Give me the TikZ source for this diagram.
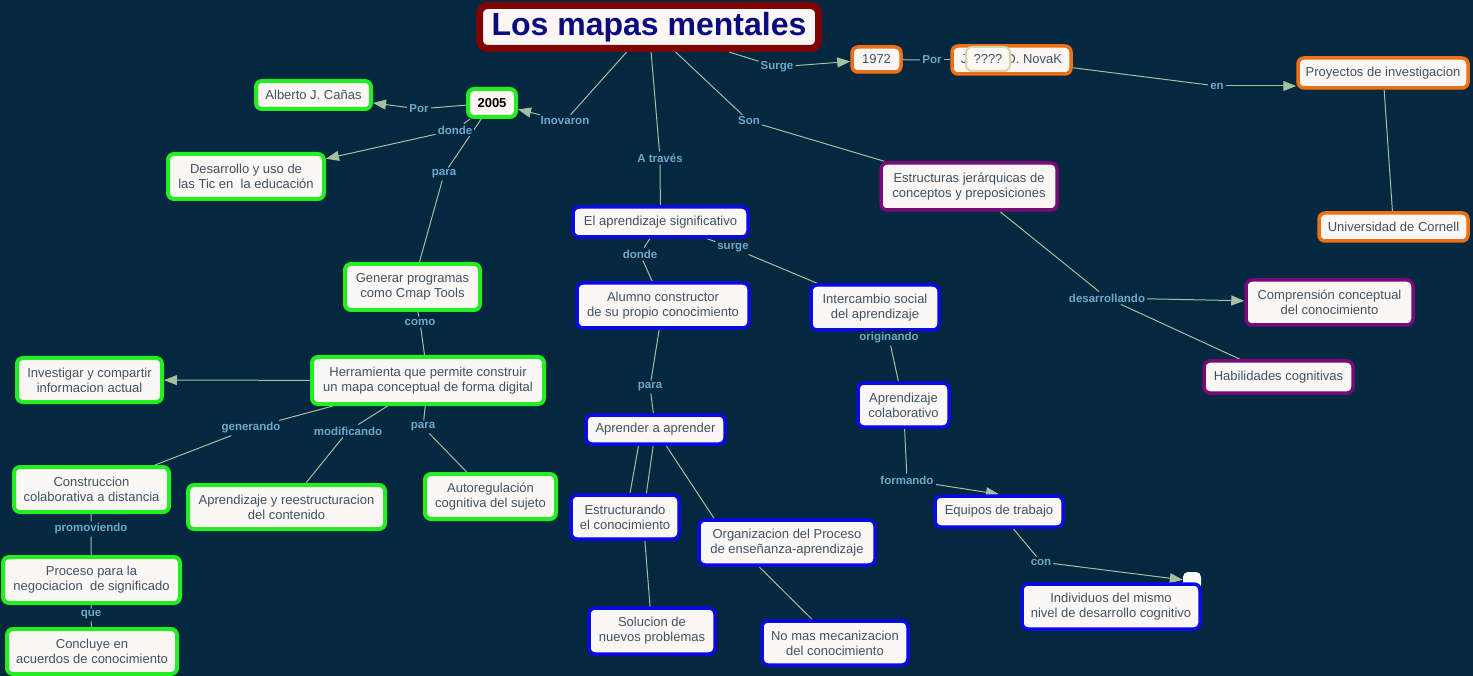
\documentclass[tikz,border=0pt]{standalone}
\usepackage{fontspec}
\setmainfont{Liberation Sans}
\usetikzlibrary{arrows.meta}
\definecolor{bgc}{HTML}{03283F}
\definecolor{nodefill}{HTML}{FAF7F4}
\definecolor{nodetext}{HTML}{3E5366}
\definecolor{labc}{HTML}{6FA8C8}
\definecolor{linec}{HTML}{A5BFA0}
\definecolor{greenb}{HTML}{22EE22}
\definecolor{blueb}{HTML}{0A0AE6}
\definecolor{orangeb}{HTML}{F07018}
\definecolor{purpleb}{HTML}{7A0A7A}
\definecolor{titleb}{HTML}{7D0505}
\definecolor{titletext}{HTML}{0B0B80}
\definecolor{qborder}{HTML}{D6D4A8}
\pgfdeclarelayer{bg}
\pgfdeclarelayer{edges}
\pgfsetlayers{bg,edges,main}
\begin{document}
\begin{tikzpicture}[x=1pt,y=-1pt,
  concept/.style={draw, fill=nodefill, text=nodetext, rounded corners=6pt, align=center,
    font=\fontsize{13}{15}\selectfont, line width=3.5pt, inner sep=0pt},
  gn/.style={concept, draw=greenb, line width=4pt},
  bn/.style={concept, draw=blueb},
  on/.style={concept, draw=orangeb},
  pn/.style={concept, draw=purpleb},
  lab/.style={font=\bfseries\fontsize{11.5}{13}\selectfont, text=labc, fill=bgc, inner sep=2pt},
  conn/.style={draw=linec, line width=1pt},
  arr/.style={conn, -{Triangle[length=13pt,width=10pt]}}
]
\begin{pgfonlayer}{bg}
\fill[bgc] (0,0) rectangle (1473,676);
\end{pgfonlayer}
\useasboundingbox (0,0) rectangle (1473,676);

% title
\node[draw=titleb, fill=nodefill, text=titletext, line width=7pt, rounded corners=8pt,
  font=\bfseries\fontsize{32}{36}\selectfont, minimum width=339pt, minimum height=43pt, inner sep=0pt]
  (title) at (649,27) {Los mapas mentales};

% orange
\node[on, minimum width=49pt, minimum height=25pt] (y1972) at (876.5,59.5) {1972};
\node[on, minimum width=119pt, minimum height=28pt] (novak) at (1011.5,60) {Joseph D. NovaK};
\node[draw=qborder, fill=nodefill, text=nodetext, line width=2pt, rounded corners=6pt,
  font=\fontsize{13}{15}\selectfont, minimum width=44pt, minimum height=24pt, inner sep=0pt]
  (qq) at (988,59) {????};
\node[on, minimum width=170pt, minimum height=30pt] (proy) at (1383,73) {Proyectos de investigacion};
\node[on, minimum width=149pt, minimum height=28pt] (cornell) at (1393.5,227) {Universidad de Cornell};

% green
\node[gn, minimum width=48pt, minimum height=28pt, text=black, font=\bfseries\fontsize{13}{15}\selectfont] (n2005) at (492,103) {2005};
\node[gn, minimum width=115pt, minimum height=28pt] (alberto) at (313.5,95) {Alberto J. Cañas};
\node[gn, minimum width=156pt, minimum height=45pt] (desar) at (246,176.5) {Desarrollo y uso de\\las Tic en\ \ la educación};
\node[gn, minimum width=135pt, minimum height=46pt] (generar) at (412.5,287) {Generar programas\\como Cmap Tools};
\node[gn, minimum width=232pt, minimum height=47pt] (herr) at (428,380.5) {Herramienta que permite construir\\un mapa conceptual de forma digital};
\node[gn, minimum width=145pt, minimum height=44pt] (invest) at (89.5,380) {Investigar y compartir\\informacion actual};
\node[gn, minimum width=155pt, minimum height=45pt] (constr) at (91.5,489.5) {Construccion\\colaborativa a distancia};
\node[gn, minimum width=197pt, minimum height=44pt] (apreestr) at (286.5,507) {Aprendizaje y reestructuracion\\del contenido};
\node[gn, minimum width=131pt, minimum height=45pt] (autor) at (490.5,496.5) {Autoregulación\\cognitiva del sujeto};
\node[gn, minimum width=177pt, minimum height=46pt] (proceso) at (91.5,580) {Proceso para la\\negociacion\ \ de significado};
\node[gn, minimum width=170pt, minimum height=45pt] (concluye) at (92,651.5) {Concluye en\\acuerdos de conocimiento};

% blue
\node[bn, minimum width=175pt, minimum height=30pt] (apsig) at (660.5,222) {El aprendizaje significativo};
\node[bn, minimum width=172pt, minimum height=45pt] (alumno) at (663,305.5) {Alumno constructor\\de su propio conocimiento};
\node[bn, minimum width=128pt, minimum height=45pt] (interc) at (875,307.5) {Intercambio social\\del aprendizaje};
\node[bn, minimum width=139pt, minimum height=29pt] (aprender) at (655.5,429.5) {Aprender a aprender};
\node[bn, minimum width=91pt, minimum height=44pt] (apcolab) at (903.5,405) {Aprendizaje\\colaborativo};
\node[bn, minimum width=108pt, minimum height=44pt] (estruct) at (625,517) {Estructurando\\el conocimiento};
\node[bn, minimum width=176pt, minimum height=45pt] (organiz) at (787,542.5) {Organizacion del Proceso\\de enseñanza-aprendizaje};
\node[bn, minimum width=126pt, minimum height=46pt] (solucion) at (652,631) {Solucion de\\nuevos problemas};
\node[bn, minimum width=146pt, minimum height=44pt] (nomas) at (835,643) {No mas mecanizacion\\del conocimiento};
\node[bn, minimum width=128pt, minimum height=31pt] (equipos) at (999,511.5) {Equipos de trabajo};
\node[fill=white, rounded corners=5pt, minimum width=18pt, minimum height=18pt, inner sep=0pt] (blob) at (1192,581) {};
\node[bn, minimum width=178pt, minimum height=45pt] (indiv) at (1111,606.5) {Individuos del mismo\\nivel de desarrollo cognitivo};

% purple
\node[pn, minimum width=176pt, minimum height=47pt] (estr) at (969,186.5) {Estructuras jerárquicas de\\conceptos y preposiciones};
\node[pn, minimum width=167pt, minimum height=45pt] (compren) at (1329.5,302.5) {Comprensión conceptual\\del conocimiento};
\node[pn, minimum width=149pt, minimum height=32pt] (habil) at (1278.5,377) {Habilidades cognitivas};

% labels
\node[lab] (inov) at (565,121) {Inovaron};
\node[lab] (surge) at (777,67) {Surge};
\node[lab] (por1) at (932,60) {Por};
\node[lab] (en) at (1217,86) {en};
\node[lab] (atraves) at (660,158) {A través};
\node[lab] (son) at (749,121) {Son};
\node[lab] (por2) at (419,109) {Por};
\node[lab] (donde1) at (455,130) {donde};
\node[lab] (para1) at (444,174) {para};
\node[lab] (como) at (420,322) {como};
\node[lab] (generando) at (251,428) {generando};
\node[lab] (modif) at (348,431) {modificando};
\node[lab] (para2) at (423,427) {para};
\node[lab] (promov) at (91,529) {promoviendo};
\node[lab] (que) at (91,615) {que};
\node[lab] (donde2) at (640,254) {donde};
\node[lab] (surge2) at (733,248) {surge};
\node[lab] (para3) at (650,387) {para};
\node[lab] (orig) at (889,338) {originando};
\node[lab] (formando) at (907,480) {formando};
\node[lab] (con) at (1041,562) {con};
\node[lab] (desarr) at (1107,298) {desarrollando};
\coordinate (h1) at (643,517);

\begin{pgfonlayer}{edges}
\draw[conn] (title) -- (inov); \draw[arr] (inov) -- (n2005);
\draw[conn] (title) -- (surge); \draw[arr] (surge) -- (y1972);
\draw[conn] (y1972) -- (por1); \draw[conn] (por1) -- (novak);
\draw[conn] (novak) -- (en); \draw[arr] (en) -- (proy.west |- en);
\draw[conn] (proy) -- (cornell);
\draw[conn] (title) -- (atraves); \draw[conn] (atraves) -- (apsig);
\draw[conn] (title) -- (son); \draw[conn] (son) -- (estr);
\draw[conn] (n2005) -- (por2); \draw[arr] (por2) -- (alberto);
\draw[conn] (n2005) -- (donde1); \draw[arr] (donde1) -- (desar);
\draw[conn] (n2005) -- (para1); \draw[conn] (para1) -- (generar);
\draw[conn] (generar) -- (como); \draw[conn] (como) -- (herr);
\draw[arr] (herr) -- (invest);
\draw[conn] (herr) -- (generando); \draw[conn] (generando) -- (constr);
\draw[conn] (herr) -- (modif); \draw[conn] (modif) -- (apreestr);
\draw[conn] (herr) -- (para2); \draw[conn] (para2) -- (autor);
\draw[conn] (constr) -- (promov); \draw[conn] (promov) -- (proceso);
\draw[conn] (proceso) -- (que); \draw[conn] (que) -- (concluye);
\draw[conn] (apsig) -- (donde2); \draw[conn] (donde2) -- (alumno);
\draw[conn] (apsig) -- (surge2); \draw[conn] (surge2) -- (interc);
\draw[conn] (alumno) -- (para3); \draw[conn] (para3) -- (aprender);
\draw[conn] (interc) -- (orig); \draw[conn] (orig) -- (apcolab);
\draw[conn] ([xshift=-17pt]aprender.south) -- ([xshift=5pt]estruct.north);
\draw[conn] (aprender.center) -- (h1) -- (solucion.center);
\draw[conn] (aprender.center) -- ([xshift=-73pt]organiz.north);
\draw[conn] ([xshift=-28pt]organiz.south) -- ([xshift=-23pt]nomas.north);
\draw[conn] (apcolab) -- (formando); \draw[arr] (formando) -- (equipos.north);
\draw[conn] (equipos) -- (con); \draw[arr] (con) -- (blob);
\draw[conn] (estr) -- (desarr); \draw[arr] (desarr) -- (compren); \draw[conn] (desarr) -- (habil);
\end{pgfonlayer}
\end{tikzpicture}
\end{document}
